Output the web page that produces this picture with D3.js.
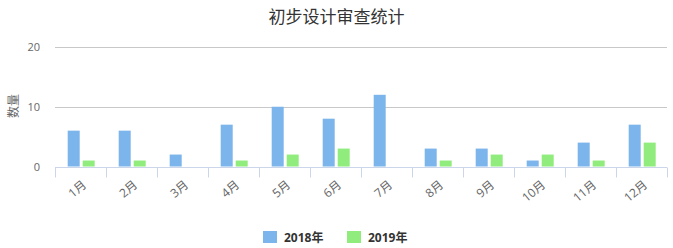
<!DOCTYPE html>
<html>
<head>
<meta charset="utf-8">
<script src="https://cdn.jsdelivr.net/npm/d3@7/dist/d3.min.js"></script>
<style>
    body { margin: 0; background: #fff; }
    svg { font-family: "Open Sans", "Noto Sans CJK SC", sans-serif; }
</style>
</head>
<body>
<svg id="chart" width="673" height="248"></svg>
<script>
var months = ["1月", "2月", "3月", "4月", "5月", "6月", "7月", "8月", "9月", "10月", "11月", "12月"];
var seriesNames = ["2018年", "2019年"];
var values2018 = [6, 6, 2, 7, 10, 8, 12, 3, 3, 1, 4, 7];
var values2019 = [1, 1, 0, 1, 2, 3, 0, 1, 2, 2, 1, 4];
var yTicks = [0, 10, 20];
var colors = ["#7cb5ec", "#90ed7d"];

var svg = d3.select("#chart");
const plotLeft = 55, plotRight = 667, plotTop = 47, plotBottom = 166.5;

var xScale = d3.scaleBand().domain(months).range([plotLeft, plotRight]);
var yScale = d3.scaleLinear().domain([0, 20]).range([plotBottom, plotTop]);
// inner band for the two series inside one month
var inner = d3.scaleBand().domain(seriesNames).range([12.7, 39.7]).paddingInner(0.2);

// title
svg.append("text")
    .attr("x", 336.5).attr("y", 23)
    .attr("text-anchor", "middle")
    .attr("fill", "#333")
    .style("font-size", "17px")
    .text("初步设计审查统计");

// gridlines
svg.append("g")
    .selectAll("line")
    .data(yTicks.filter(t => t > 0))
    .enter().append("line")
    .attr("x1", plotLeft).attr("x2", plotRight)
    .attr("y1", d => Math.round(yScale(d)) + 0.5)
    .attr("y2", d => Math.round(yScale(d)) + 0.5)
    .attr("stroke", "#c8c8c8");

// y labels
svg.append("g")
    .selectAll("text")
    .data(yTicks)
    .enter().append("text")
    .attr("x", 40).attr("y", d => yScale(d) + 4)
    .attr("text-anchor", "end")
    .attr("fill", "#666")
    .style("font-size", "11px")
    .text(d => d);

svg.append("text")
    .attr("transform", "translate(18,106) rotate(-90)")
    .attr("text-anchor", "middle")
    .attr("fill", "#666")
    .style("font-size", "12px")
    .text("数量");

// bars
var series = [values2018, values2019];
series.forEach((vals, si) => {
    svg.append("g")
        .selectAll("rect")
        .data(vals)
        .enter().append("rect")
        .attr("x", (d, i) => xScale(months[i]) + inner(seriesNames[si]))
        .attr("width", inner.bandwidth())
        .attr("y", d => yScale(d))
        .attr("height", d => yScale(0) - yScale(d))
        .attr("fill", colors[si]);
});

// x axis
var xAxis = svg.append("g")
    .attr("transform", "translate(0," + (Math.round(yScale(0)) + 0.5) + ")");
xAxis.append("line")
    .attr("x1", plotLeft).attr("x2", plotRight)
    .attr("stroke", "#ccd6eb");
xAxis.selectAll(".tick")
    .data(months.concat(["end"]))
    .enter().append("line")
    .attr("x1", (d, i) => Math.round(plotLeft + i * xScale.step()) + 0.5)
    .attr("x2", (d, i) => Math.round(plotLeft + i * xScale.step()) + 0.5)
    .attr("y1", 0).attr("y2", 10)
    .attr("stroke", "#ccd6eb");
xAxis.selectAll("text")
    .data(months)
    .enter().append("text")
    .attr("transform", d => "translate(" + (xScale(d) + xScale.bandwidth() / 2 + 2) + ",13) rotate(-40)")
    .attr("text-anchor", "end")
    .attr("dy", "0.6em")
    .attr("fill", "#666")
    .style("font-size", "12px")
    .text(d => d);

// legend
var legend = svg.append("g");
var legendX = [263, 347];
seriesNames.forEach((name, i) => {
    legend.append("rect")
        .attr("x", legendX[i]).attr("y", 231)
        .attr("width", 14).attr("height", 12)
        .attr("fill", colors[i]);
    legend.append("text")
        .attr("x", legendX[i] + 21).attr("y", 242)
        .attr("fill", "#333")
        .style("font-size", "12px")
        .style("font-weight", "bold")
        .text(name);
});
</script>
</body>
</html>
